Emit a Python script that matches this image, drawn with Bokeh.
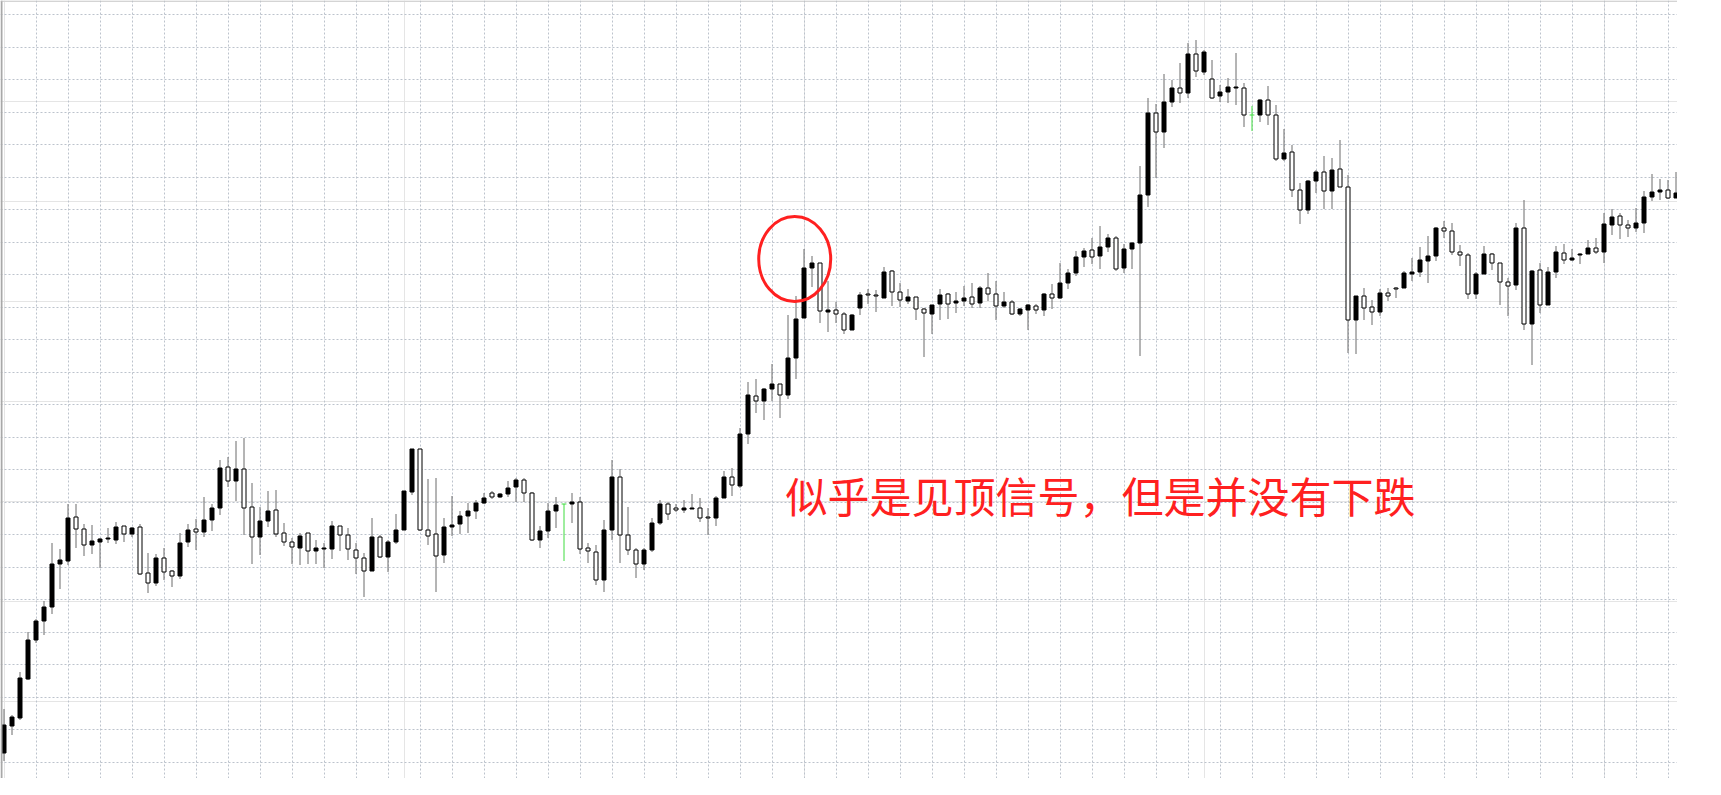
from bokeh.plotting import figure
from bokeh.models import Range1d, Grid, FixedTicker, Label, ColumnDataSource, Span
from bokeh.embed import file_html
from bokeh.resources import INLINE

# ---- data (price in chart points) ----
open_ = [248,275,283,322,361,380,394,437,440,484,
         472,456,459,462,461,475,467,474,428,418,
         443,430,425,459,472,469,481,493,534,520,
         532,494,464,480,491,468,459,453,468,450,
         452,452,475,466,451,443,430,464,444,459,
         471,509,552,471,467,446,474,477,485,490,
         498,508,504,507,514,521,508,461,470,490,
         497,497,499,453,449,421,471,524,466,451,
         437,451,478,497,493,491,492,493,484,483,
         503,524,515,567,605,600,612,617,606,643,
         683,733,738,689,691,687,671,693,707,706,
         703,730,709,700,704,692,687,697,707,698,
         700,704,698,713,707,695,699,687,691,695,
         691,707,703,718,728,744,751,745,754,763,
         733,752,758,806,888,869,899,913,908,947,
         929,922,905,909,913,913,886,886,901,886,
         842,849,811,791,820,829,810,832,814,681,
         705,694,689,708,713,713,727,729,740,745,
         773,770,749,746,707,727,747,738,719,716,
         773,677,731,696,729,748,741,746,747,753,
         749,776,785,776,773,778,804,809,811,803]

high = [292,286,329,369,382,400,458,452,497,497,
        477,476,463,473,479,475,474,477,448,447,
        453,431,468,477,482,504,497,541,544,560,
        563,518,494,510,511,478,463,468,468,461,
        458,480,475,473,458,448,483,466,461,487,
        510,552,552,522,523,483,505,490,498,501,
        508,510,508,520,523,523,509,475,498,504,
        497,508,504,458,456,481,541,532,494,453,
        453,483,501,499,497,501,507,503,493,505,
        530,533,573,619,622,613,637,617,686,705,
        752,745,738,720,699,689,687,709,712,711,
        734,731,718,712,704,693,696,712,708,709,
        715,718,715,728,720,709,701,693,697,697,
        708,717,738,732,750,753,763,775,767,765,
        757,759,835,903,897,927,921,938,958,961,
        951,941,916,923,948,918,895,902,915,896,
        872,856,818,821,831,845,843,861,826,705,
        713,701,712,713,714,730,743,754,765,774,
        780,778,756,748,729,755,748,738,723,778,
        801,731,738,734,755,757,752,748,761,763,
        788,792,788,781,793,810,827,822,821,829]

low = [240,266,281,321,358,366,387,412,436,453,
       445,447,433,458,457,459,464,426,408,415,
       421,414,422,454,451,464,470,486,514,500,
       466,437,446,474,464,455,437,436,437,437,
       433,442,450,441,427,404,430,443,429,457,
       471,506,470,456,409,438,465,467,468,482,
       497,502,503,504,499,499,460,453,463,473,
       440,478,447,438,416,409,461,438,446,423,
       431,449,476,481,489,488,492,479,466,475,
       503,505,513,557,588,581,600,583,602,622,
       683,714,678,669,678,667,671,686,697,689,
       703,695,694,697,681,644,667,681,682,688,
       695,693,693,700,681,693,686,685,671,687,
       685,692,702,712,725,734,737,732,749,730,
       728,732,645,794,823,853,894,898,903,924,
       926,902,899,898,896,874,870,879,876,840,
       840,804,777,787,808,792,792,814,648,647,
       681,676,685,700,703,713,720,724,718,740,
       763,746,735,702,702,727,731,696,685,711,
       671,636,688,696,723,737,740,737,747,747,
       738,766,762,764,769,768,800,801,802,803]

close = [276,284,323,361,380,394,437,441,483,472,
         456,460,462,463,474,467,473,427,418,443,
         429,425,458,471,469,481,493,533,520,532,
         493,464,480,490,467,459,454,465,450,453,
         453,475,466,452,443,430,464,444,459,471,
         510,552,471,465,445,474,476,485,490,498,
         503,504,507,513,521,508,461,470,490,496,
         497,499,452,450,421,471,524,466,451,437,
         451,478,497,487,491,493,493,483,483,503,
         524,516,567,606,600,612,617,606,643,682,
         733,738,690,691,687,671,686,706,706,705,
         729,709,701,704,692,688,696,706,697,700,
         703,697,713,707,695,699,687,692,696,691,
         707,703,718,728,744,750,744,754,763,732,
         752,758,806,888,869,899,913,908,947,930,
         949,903,909,914,914,886,886,901,886,842,
         848,811,791,820,829,810,831,814,681,705,
         693,689,708,705,712,728,729,741,745,773,
         770,749,746,707,727,747,738,719,715,773,
         677,730,696,729,749,741,743,747,753,749,
         777,784,776,773,778,804,809,811,803,808]

annotation = "似乎是见顶信号，但是并没有下跌"

# ---- build sources ----
n = len(close)
idx = list(range(n))
wick_col, body_x, body_top, body_bot, body_fill = [], [], [], [], []
doji_x, doji_y = [], []
for i in idx:
    o, c = open_[i], close[i]
    if o == c:
        wick_col.append("#3fdc3f")
        doji_x.append(i)
        doji_y.append(o)
    else:
        wick_col.append("#6a6a6a")
        body_x.append(i)
        body_top.append(max(o, c))
        body_bot.append(min(o, c))
        body_fill.append("black" if c > o else "white")

wick_src = ColumnDataSource(dict(x=idx, high=high, low=low, color=wick_col))
body_src = ColumnDataSource(dict(x=body_x, top=body_top, bottom=body_bot, fill=body_fill))
doji_src = ColumnDataSource(dict(x0=[x - 0.3 for x in doji_x], x1=[x + 0.3 for x in doji_x], y=doji_y))

X0 = -0.4375
p = figure(width=1677, height=778,
           x_range=Range1d(X0, X0 + 1677 / 8), y_range=Range1d(222.5, 1000.5),
           output_backend="svg", toolbar_location=None,
           x_axis_location=None, y_axis_location=None, min_border=0)
p.outline_line_color = None
p.background_fill_color = "white"
p.border_fill_color = "white"

grid_color = "#bcc3cc"
xg = Grid(dimension=0, ticker=FixedTicker(ticks=list(range(4, 209, 4))),
          grid_line_color=grid_color, grid_line_dash="2 2", grid_line_width=1)
yg = Grid(dimension=1, ticker=FixedTicker(ticks=[round(239 + 32.52 * k) for k in range(24)]),
          grid_line_color=grid_color, grid_line_dash="2 2", grid_line_width=1)
p.add_layout(xg)
p.add_layout(yg)

# window frame lines (left and top)
p.add_layout(Span(location=X0 + 1 / 8, dimension="height", line_color="#a8a8a8", line_width=2))
p.add_layout(Span(location=1000, dimension="width", line_color="#c4c4c4", line_width=1))

p.segment(x0="x", y0="low", x1="x", y1="high", color="color", line_width=1, source=wick_src)
p.vbar(x="x", width=0.5, top="top", bottom="bottom", fill_color="fill",
       line_color="black", line_width=1, source=body_src)
p.segment(x0="x0", y0="y", x1="x1", y1="y", color="#3fdc3f", line_width=1, source=doji_src)

p.ellipse(x=[98.84], y=[742], width=[9.0], height=[85], fill_color=None,
          line_color="#ff2020", line_width=3)

p.add_layout(Label(x=97.7, y=507, text=annotation, text_font="Noto Sans CJK SC",
                   text_font_size="42px", text_color="#ff2020",
                   text_baseline="middle", text_align="left"))

open("out.html", "w").write(file_html(p, INLINE))
